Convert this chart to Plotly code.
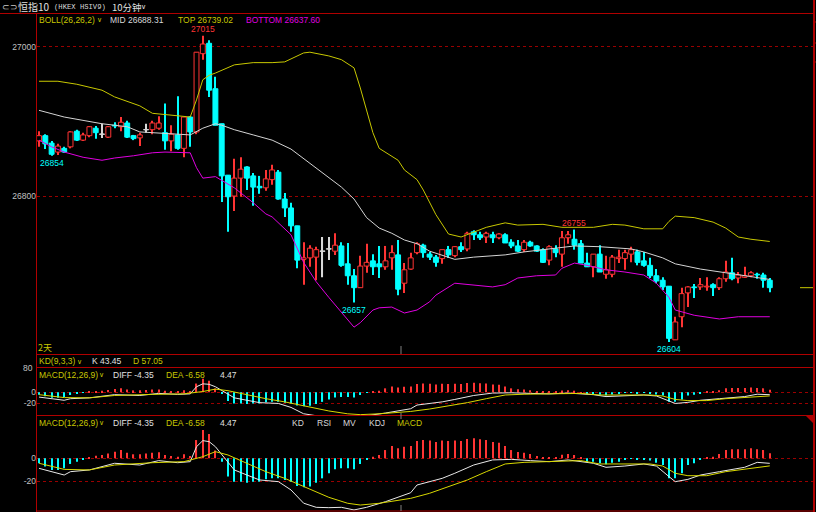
import plotly.graph_objects as go

W, H = 816, 512

# ---------------- data ----------------
OPEN = [26874,26881,26871,26859,26864,26866,26887,26875,26881,26891,
        26883,26879,26895,26893,26898,26881,26878,26889,26889,26891,
        26885,26874,26882,26864,26906,26886,26991,27005,26944,26897,
        26828,26800,26824,26839,26827,26813,26811,26822,26832,26796,
        26784,26760,26715,26717,26718,26726,26729,26726,26733,26709,
        26693,26677,26706,26713,26709,26705,26717,26721,26683,26702,
        26724,26734,26722,26718,26716,26728,26720,26732,26729,26752,
        26748,26745,26748,26744,26748,26738,26733,26728,26738,26733,
        26728,26714,26729,26722,26744,26742,26736,26710,26705,26722,
        26695,26695,26716,26716,26722,26725,26713,26707,26693,26687,
        26679,26607,26638,26670,26678,26678,26678,26681,26677,26689,
        26697,26690,26691,26693,26695,26694,26687]
HIGH = [26887,26883,26874,26870,26866,26887,26889,26885,26894,26894,
        26897,26894,26899,26906,26901,26882,26885,26897,26901,26907,
        26924,26895,26934,26906,26907,26993,27015,27009,26960,26897,
        26828,26850,26852,26840,26831,26827,26835,26842,26835,26804,
        26791,26760,26738,26734,26732,26745,26745,26750,26738,26737,
        26702,26720,26736,26722,26733,26733,26734,26741,26710,26724,
        26738,26736,26725,26721,26728,26733,26733,26738,26752,26754,
        26752,26752,26752,26750,26750,26742,26741,26741,26740,26734,
        26730,26734,26734,26753,26753,26755,26741,26724,26722,26734,
        26720,26721,26728,26728,26732,26728,26725,26717,26702,26691,
        26679,26638,26677,26679,26682,26690,26691,26683,26691,26713,
        26717,26698,26705,26699,26697,26697,26690]
LOW = [26866,26863,26854,26855,26858,26864,26874,26874,26879,26877,
       26878,26878,26891,26887,26878,26875,26867,26885,26883,26889,
       26862,26860,26862,26852,26866,26883,26983,26933,26895,26792,
       26752,26780,26799,26808,26787,26803,26807,26815,26795,26772,
       26752,26703,26681,26705,26687,26691,26714,26721,26705,26681,
       26657,26677,26697,26694,26690,26701,26701,26667,26670,26701,
       26722,26717,26714,26705,26709,26717,26718,26725,26726,26741,
       26741,26737,26737,26742,26737,26730,26725,26725,26732,26725,
       26710,26707,26718,26705,26736,26728,26710,26705,26691,26698,
       26689,26691,26710,26701,26711,26707,26705,26690,26683,26674,
       26604,26607,26624,26651,26663,26674,26673,26666,26674,26685,
       26687,26683,26690,26691,26689,26677,26671]
CLOSE = [26881,26870,26856,26867,26859,26886,26875,26882,26893,26885,
         26883,26893,26894,26899,26879,26877,26882,26889,26898,26898,
         26874,26883,26864,26906,26886,26993,27004,26942,26895,26827,
         26799,26824,26836,26824,26812,26811,26823,26835,26796,26784,
         26760,26714,26717,26730,26728,26726,26729,26734,26707,26693,
         26677,26706,26711,26705,26705,26713,26724,26675,26701,26717,
         26736,26724,26718,26711,26728,26721,26732,26728,26750,26748,
         26744,26750,26744,26749,26737,26733,26726,26738,26733,26726,
         26711,26732,26724,26744,26748,26734,26710,26705,26722,26698,
         26701,26718,26718,26724,26728,26711,26707,26693,26686,26678,
         26609,26631,26669,26678,26677,26681,26679,26677,26689,26698,
         26689,26694,26693,26697,26694,26687,26677]

UP_IDX = [0,3,6,10,12,16,18,20,24,25,26,27,28,31,34,37,39,42,43,46,48,50,51,53,54,57,
          58,60,61,63,65,67,69,71,74,76,80,83,88,91,93,96,99,100,101,104,107,109,111,113,116]
UP_VAL = [26954,26954,26950,26942,26933,26921,26911,26909,26906,26929,26956,26962,26965,
          26976,26979,26979,26980,26992,26993,26988,26983,26972,26945,26885,26864,26848,
          26835,26822,26808,26775,26749,26745,26752,26758,26764,26761,26762,26758,26758,
          26762,26761,26756,26756,26766,26773,26771,26765,26757,26745,26742,26739]
MID_IDX = [0,4,10,14,16,18,20,24,26,28,29,31,34,37,40,42,44,46,48,50,52,54,56,58,60,62,
           64,66,69,74,77,80,85,89,94,96,99,101,105,109,112,116]
MID_VAL = [26915,26906,26897,26893,26886,26885,26885,26882,26891,26897,26895,26889,26882,
           26875,26863,26850,26838,26824,26812,26796,26771,26757,26750,26741,26736,26726,
           26720,26715,26718,26721,26725,26728,26733,26732,26729,26725,26717,26709,26702,
           26697,26693,26688]
LOW_IDX = [0,2,4,7,10,12,15,18,20,24,25,26,28,31,34,36,37,40,42,44,46,50,51,53,54,56,58,
           60,62,63,66,69,72,74,76,79,82,83,85,87,90,93,96,98,100,101,104,108,111,116]
LOW_VAL = [26875,26866,26859,26852,26848,26851,26854,26858,26859,26858,26838,26824,26826,
           26811,26791,26776,26772,26748,26711,26685,26664,26624,26630,26647,26650,26651,
           26643,26647,26658,26667,26683,26681,26678,26681,26690,26693,26694,26703,26710,
           26707,26701,26698,26694,26683,26664,26647,26640,26635,26638,26638]

HIST = [-4.3,-7.2,-10.1,-10.1,-8.7,-4.9,-2.9,-0.9,0.9,2.3,
        2.9,4.3,5.8,7.2,4.9,3.5,3.5,4.3,4.9,5.2,
        2.9,2.0,1.4,3.5,2.0,15.9,24.6,21.2,6.7,-2.9,
        -15.9,-20.3,-20.3,-21.2,-20.3,-20.3,-18.3,-17.4,-17.4,-18.8,
        -20.3,-24.1,-25.2,-24.6,-21.2,-17.4,-13.0,-9.6,-8.7,-8.7,
        -9.6,-4.9,-0.9,1.4,2.9,7.2,10.7,8.7,10.1,10.7,
        15.1,15.9,15.4,14.2,15.4,15.1,15.4,15.1,16.8,17.4,
        16.5,15.9,14.2,13.6,10.7,7.2,5.5,4.9,3.8,2.0,
        0.6,0.6,0.6,3.2,3.8,2.9,0.4,-2.9,-2.9,-4.3,
        -5.2,-3.8,-2.9,-0.9,-0.4,-1.4,-0.9,-2.0,-3.8,-5.8,
        -17.4,-17.4,-13.0,-5.8,-4.3,-1.4,0.6,1.4,3.8,7.2,
        7.8,7.8,7.8,8.7,7.8,7.2,4.47]
DIFF_IDX = [0,4,5,8,12,16,19,22,24,25,26,27,28,30,31,33,35,38,40,42,44,46,48,50,52,55,57,
            59,60,64,66,69,72,75,78,81,84,86,88,90,93,96,98,100,101,103,105,108,112,114,116]
DIFF_VAL = [-8.7,-14.5,-11.6,-10.1,-4.3,-5.8,-2.0,-3.8,-2.9,10.1,15.4,14.5,10.1,-2.9,-10.1,
            -14.5,-18.8,-20.3,-27.5,-39.0,-42.6,-42.9,-42.6,-44.9,-42.6,-37.7,-33.9,-29.9,
            -23.2,-17.4,-13.0,-5.8,-1.4,-0.9,-2.0,-2.9,-1.4,-2.9,-4.3,-7.8,-6.7,-4.9,-6.7,
            -15.9,-20.3,-18.3,-14.5,-11.6,-7.8,-3.5,-4.35]
DEA_IDX = [0,4,8,12,18,23,26,28,30,33,36,39,42,46,49,51,54,57,59,62,65,68,71,74,77,80,83,
           86,89,93,97,99,101,103,106,109,112,116]
DEA_VAL = [-4.3,-9.6,-10.1,-5.8,-3.8,-2.9,1.4,5.8,2.9,-4.3,-11.6,-17.4,-24.6,-33.9,-39.1,
           -40.6,-39.1,-36.8,-34.8,-30.4,-24.6,-18.8,-11.6,-4.9,-3.5,-2.9,-2.9,-2.0,-4.9,
           -4.9,-4.9,-6.7,-13.0,-15.1,-15.1,-11.6,-9.3,-6.58]

MAIN_TICKS = [26800, 27000]
MACD_TICKS = [0, -20]

# ---------------- style ----------------
RED = '#ff3434'
CYAN = '#00ffff'
DOJI = '#d8d8d8'
BORDER = '#b00000'
GRID = '#9a0000'
YEL = '#c8c800'
MAG = '#e000e0'
MIDC = '#d4d4d4'
LABEL = '#c0c0c0'
FONT = 'Liberation Sans, Arial, sans-serif'
CJK = 'Noto Sans CJK SC, sans-serif'


def X(p):
    return p / W


def Y(p):
    return 1 - p / H


n = len(CLOSE)
IDX = list(range(n))
X_RANGE = [-0.32, 122.86]

fig = go.Figure()

# Bollinger bands
for xs, ys, col in [(UP_IDX, UP_VAL, YEL), (MID_IDX, MID_VAL, MIDC), (LOW_IDX, LOW_VAL, MAG)]:
    fig.add_trace(go.Scatter(x=xs, y=ys, mode='lines', line=dict(color=col, width=1),
                             hoverinfo='skip', xaxis='x', yaxis='y'))

cols, fills, heights, bases = [], [], [], []
for o, c in zip(OPEN, CLOSE):
    if c > o:
        cols.append(RED); fills.append('black')
    elif c < o:
        cols.append(CYAN); fills.append(CYAN)
    else:
        cols.append(DOJI); fills.append(DOJI)
    hgt = abs(c - o)
    if hgt < 0.6:
        bases.append(min(o, c) - 0.3); heights.append(0.6)
    else:
        bases.append(min(o, c)); heights.append(hgt)

# wicks
fig.add_trace(go.Bar(x=IDX, y=[h - l for h, l in zip(HIGH, LOW)], base=LOW, width=0.17,
                     marker=dict(color=cols, line=dict(width=0)), hoverinfo='skip',
                     xaxis='x', yaxis='y'))
# bodies
fig.add_trace(go.Bar(x=IDX, y=heights, base=bases, width=0.78,
                     marker=dict(color=fills, line=dict(color=cols, width=1)),
                     hoverinfo='skip', xaxis='x', yaxis='y'))

# MACD panels (same indicator drawn twice)
hcols = [RED if v > 0 else CYAN for v in HIST]
for xa, ya in [('x2', 'y2'), ('x3', 'y3')]:
    fig.add_trace(go.Bar(x=IDX, y=HIST, width=0.18, marker=dict(color=hcols, line=dict(width=0)),
                         hoverinfo='skip', xaxis=xa, yaxis=ya))
    fig.add_trace(go.Scatter(x=DIFF_IDX, y=DIFF_VAL, mode='lines', line=dict(color='#e8e8e8', width=1),
                             hoverinfo='skip', xaxis=xa, yaxis=ya))
    fig.add_trace(go.Scatter(x=DEA_IDX, y=DEA_VAL, mode='lines', line=dict(color='#d8d800', width=1),
                             hoverinfo='skip', xaxis=xa, yaxis=ya))

xdom = [X(37), X(813)]
xcommon = dict(range=X_RANGE, showticklabels=False, showgrid=False, zeroline=False,
               showline=False, ticks='', fixedrange=True)
ycommon = dict(showgrid=True, gridcolor=GRID, griddash='3px,3px', gridwidth=1, zeroline=False,
               showline=False, ticks='', tickmode='array',
               tickfont=dict(size=8.5, color=LABEL, family=FONT), fixedrange=True)

fig.update_layout(
    width=W, height=H, margin=dict(l=0, r=0, t=0, b=0),
    paper_bgcolor='black', plot_bgcolor='black', showlegend=False, barmode='overlay',
    xaxis=dict(domain=xdom, anchor='y', **xcommon),
    yaxis=dict(domain=[Y(354), Y(13)], range=[26588, 27045.6], tickvals=MAIN_TICKS,
               ticktext=[str(v) for v in MAIN_TICKS], **ycommon),
    xaxis2=dict(domain=xdom, anchor='y2', matches='x', **xcommon),
    yaxis2=dict(domain=[Y(416), Y(367)], range=[-43.1, 46.0], tickvals=MACD_TICKS,
                ticktext=[str(v) for v in MACD_TICKS], **ycommon),
    xaxis3=dict(domain=xdom, anchor='y3', matches='x', **xcommon),
    yaxis3=dict(domain=[Y(511), Y(416)], range=[-45.8, 36.8], tickvals=MACD_TICKS,
                ticktext=[str(v) for v in MACD_TICKS], **ycommon),
)

# frame lines
shapes = []
def hline(y, x0, x1, col=BORDER, w=1):
    shapes.append(dict(type='line', xref='paper', yref='paper', x0=X(x0), x1=X(x1), y0=Y(y), y1=Y(y),
                       line=dict(color=col, width=w)))
def vline(x, y0, y1, col=BORDER, w=1):
    shapes.append(dict(type='line', xref='paper', yref='paper', x0=X(x), x1=X(x), y0=Y(y0), y1=Y(y1),
                       line=dict(color=col, width=w)))

hline(13.5, 0, 814)
for yy in [354.5, 367.5, 415.5, 511]:
    hline(yy, 36, 814)
vline(36.5, 13, 512)
vline(814, 0, 512, w=2)
for yy in [22, 43, 62]:
    hline(yy, 814, 816)
vline(401, 346, 354, col='#808080')
vline(401, 413, 419, col='#808080')
vline(401, 505, 511, col='#808080')
# last-price marker on the right
shapes.append(dict(type='line', xref='paper', yref='y', x0=X(800), x1=X(813), y0=CLOSE[-1], y1=CLOSE[-1],
                   line=dict(color=YEL, width=1)))
# corner triangle
shapes.append(dict(type='path', xref='paper', yref='paper',
                   path=f'M {X(806)},{Y(416)} L {X(814)},{Y(416)} L {X(814)},{Y(424)} Z',
                   fillcolor=BORDER, line=dict(width=0)))
fig.update_layout(shapes=shapes)


def txt(s, x, y, color, size=8.5, xanchor='left', family=FONT):
    fig.add_annotation(text=s, x=X(x), y=Y(y), xref='paper', yref='paper', showarrow=False,
                       xanchor=xanchor, yanchor='middle', font=dict(size=size, color=color, family=family),
                       borderpad=0)

# title bar
txt('⊂⊃', 1, 6.5, '#c8c8c8', size=9)
txt('恒指10', 17, 6.5, '#e0e0e0', size=10, family=CJK)
txt('(HKEX HSIV9)', 53, 6.5, '#d8d8d8', size=7.2, family='Liberation Mono, monospace')
txt('10分钟', 111, 6.5, '#e0e0e0', size=9.5, family=CJK)
txt('∨', 140, 6.5, '#e0e0e0', size=7, family='DejaVu Sans')

# BOLL header
txt('BOLL(26,26,2)', 38, 19.5, YEL)
txt('∨', 96, 20, YEL, size=7, family='DejaVu Sans')
txt('MID 26688.31', 109, 19.5, '#d8d8d8')
txt('TOP 26739.02', 177, 19.5, YEL)
txt('BOTTOM 26637.60', 245, 19.5, MAG)

# KD header
txt('KD(9,3,3)', 38, 361, YEL)
txt('∨', 76, 361.5, YEL, size=7, family='DejaVu Sans')
txt('K 43.45', 91, 361, '#e0e0e0')
txt('D 57.05', 132, 361, YEL)

# MACD headers
for yy in [374.5, 422.5]:
    txt('MACD(12,26,9)', 38, yy, YEL)
    txt('∨', 98, yy + 0.5, YEL, size=7, family='DejaVu Sans')
    txt('DIFF -4.35', 112, yy, '#e0e0e0')
    txt('DEA -6.58', 165, yy, YEL)
    txt('4.47', 219, yy, '#e0e0e0')
txt('KD', 291, 422.5, '#d8d8d8')
txt('RSI', 316, 422.5, '#d8d8d8')
txt('MV', 342, 422.5, '#d8d8d8')
txt('KDJ', 368, 422.5, '#d8d8d8')
txt('MACD', 396, 422.5, YEL)

txt('80', 34, 368, LABEL, xanchor='right')
txt('2天', 37, 347, YEL, size=9, family=CJK)

# extreme price labels tied to the data
def plabel(i, val, color, above):
    fig.add_annotation(text=str(val), x=i, y=val, xref='x', yref='y', showarrow=False,
                       xanchor='center', yanchor='bottom' if above else 'top',
                       yshift=1 if above else -1, font=dict(size=8.5, color=color, family=FONT),
                       borderpad=0)

imax = HIGH.index(max(HIGH))
plabel(imax, HIGH[imax], RED, True)
plabel(2, LOW[2], CYAN, False)
plabel(50, LOW[50], CYAN, False)
plabel(85, HIGH[85], RED, True)
imin = LOW.index(min(LOW))
plabel(imin, LOW[imin], CYAN, False)

fig.write_html('out.html', config={'displayModeBar': False},
               post_script="document.body.style.margin='0';document.body.style.background='black';")
